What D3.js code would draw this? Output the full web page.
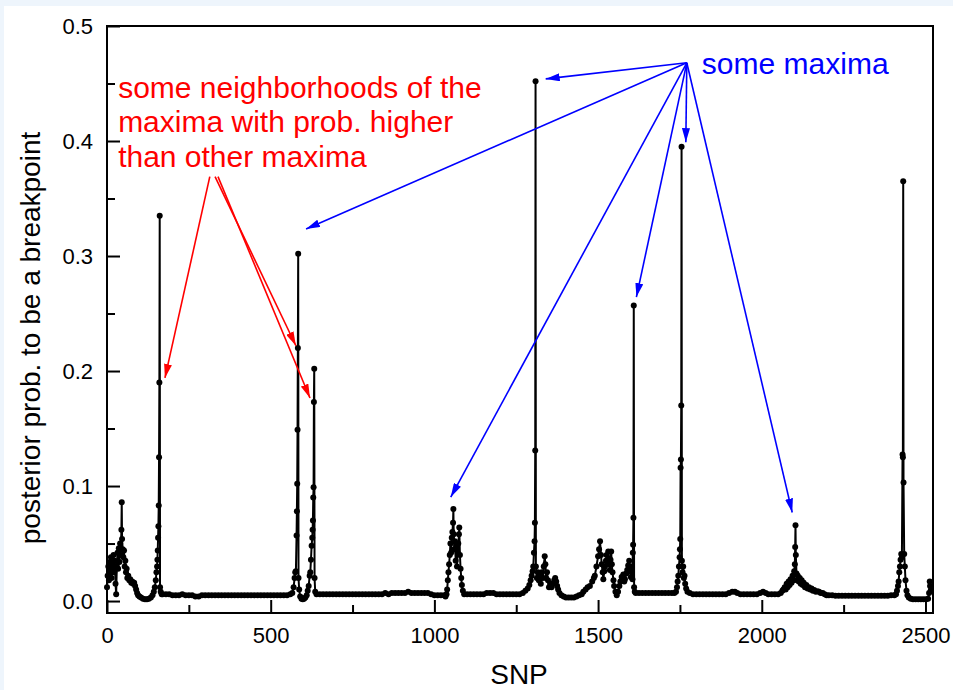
<!DOCTYPE html>
<html>
<head>
<meta charset="utf-8">
<script src="https://cdn.jsdelivr.net/npm/d3@7"></script>
<style>
    body { margin: 0; background: #eef5fc; }
    svg { display: block; }
    text { font-family: "Liberation Sans", Arial, sans-serif; }
</style>
</head>
<body>
<svg id="chart" width="953" height="690"></svg>
<script>
// Posterior probability per SNP as [snp, prob] pairs, region by region
const leftCluster = [[0,0.012],[2,0.022],[4,0.03],[6,0.018],[8,0.034],[10,0.024],[12,0.038],[14,0.02],[16,0.032],[18,0.028],
    [20,0.04],[22,0.025],[24,0.035],[26,0.015],[28,0.006],[30,0.03],[32,0.042],[34,0.028],[36,0.046],[38,0.034],[40,0.05],
    [42,0.04],[44,0.062],[45,0.086],[46,0.054],[48,0.045],[50,0.038],[52,0.044],[54,0.03],[56,0.035],[58,0.025],[60,0.028],
    [62,0.02],[65,0.022],[68,0.018],[71,0.019],[74,0.016],[77,0.017],[80,0.015],[83,0.016],[86,0.013],[89,0.01],[92,0.007],
    [95,0.005],[99,0.004],[104,0.003],[110,0.002],[116,0.0015],[122,0.0015],[128,0.002],[134,0.003],[139,0.005],[143,0.008],
    [146,0.012],[149,0.018],[151,0.025],[153,0.03],[154,0.036],[155,0.044],[156,0.055],[157,0.065],[158,0.083],[159,0.125],
    [160,0.19],[161,0.335],[162,0.012],[164,0.008],[167,0.006]];

const flat170to560 = [[170,0.006],[180,0.006],[190,0.006],[200,0.005],[210,0.005],[220,0.005],[230,0.006],[240,0.005],
    [250,0.005],[260,0.005],[270,0.004],[280,0.004],[290,0.005],[300,0.005],[310,0.005],[320,0.005],[330,0.005],[340,0.005],
    [350,0.005],[360,0.005],[370,0.005],[380,0.005],[390,0.005],[400,0.005],[410,0.005],[420,0.005],[430,0.005],[440,0.005],
    [450,0.005],[460,0.005],[470,0.005],[480,0.005],[490,0.005],[500,0.005],[510,0.005],[520,0.005],[530,0.005],[540,0.005],
    [550,0.005],[560,0.006]];

const twinPeaks = [[566,0.007],[570,0.012],[573,0.02],[575,0.025],[577,0.026],[579,0.057],[580,0.078],[581,0.102],
    [582,0.149],[583,0.22],[584,0.302],[585,0.02],[587,0.01],[590,0.004],[594,0.002],[598,0.0015],[602,0.002],[606,0.003],
    [610,0.005],[613,0.009],[616,0.013],[619,0.022],[621,0.025],[623,0.036],[625,0.048],[627,0.055],[628,0.062],[629,0.07],
    [630,0.09],[631,0.099],[632,0.173],[633,0.202],[634,0.02],[636,0.008],[640,0.006]];

const flat650to1030 = [[650,0.006],[660,0.006],[670,0.006],[680,0.006],[690,0.006],[700,0.006],[710,0.006],[720,0.006],
    [730,0.006],[740,0.006],[750,0.006],[760,0.006],[770,0.006],[780,0.006],[790,0.006],[800,0.006],[810,0.006],[820,0.006],
    [830,0.006],[840,0.006],[850,0.007],[860,0.006],[870,0.007],[880,0.007],[890,0.007],[900,0.007],[910,0.007],[920,0.008],
    [930,0.007],[940,0.007],[950,0.007],[960,0.007],[970,0.007],[980,0.007],[990,0.006],[1000,0.005],[1010,0.005],
    [1020,0.005],[1030,0.005]];

const cluster1058 = [[1034,0.004],[1037,0.006],[1039,0.01],[1041,0.018],[1043,0.025],[1045,0.032],[1047,0.04],
    [1049,0.05],[1051,0.042],[1053,0.055],[1055,0.06],[1057,0.068],[1058,0.08],[1059,0.058],[1061,0.045],[1063,0.052],
    [1065,0.035],[1067,0.048],[1069,0.03],[1071,0.042],[1073,0.05],[1075,0.058],[1076,0.064],[1078,0.04],[1080,0.028],
    [1082,0.02],[1084,0.014],[1087,0.009],[1091,0.006]];

const flat1100to1280 = [[1100,0.006],[1110,0.006],[1120,0.006],[1130,0.006],[1140,0.006],[1150,0.006],[1160,0.007],
    [1170,0.007],[1180,0.007],[1190,0.006],[1200,0.006],[1210,0.006],[1220,0.006],[1230,0.006],[1240,0.006],[1250,0.006],
    [1260,0.006],[1270,0.007],[1278,0.009]];

const cluster1309 = [[1285,0.011],[1290,0.014],[1294,0.018],[1297,0.022],[1300,0.026],[1302,0.03],[1304,0.042],
    [1306,0.052],[1307,0.068],[1308,0.131],[1309,0.452],[1310,0.03],[1313,0.02],[1316,0.025],[1319,0.018],[1322,0.022],
    [1325,0.015],[1328,0.025],[1331,0.02],[1334,0.03],[1337,0.039],[1339,0.032],[1341,0.02],[1344,0.025],[1347,0.018],
    [1350,0.012],[1354,0.015],[1358,0.012],[1362,0.015],[1366,0.018],[1369,0.02],[1372,0.017],[1375,0.013],[1378,0.01],
    [1382,0.007],[1388,0.005],[1395,0.004],[1402,0.003],[1410,0.003],[1418,0.003],[1426,0.003],[1434,0.004],[1442,0.005],
    [1450,0.006],[1455,0.008]];

const cluster1506 = [[1462,0.01],[1468,0.012],[1475,0.013],[1482,0.017],[1487,0.02],[1490,0.022],[1495,0.03],
    [1500,0.039],[1503,0.045],[1506,0.052],[1509,0.04],[1511,0.032],[1514,0.025],[1516,0.019],[1519,0.026],[1521,0.03],
    [1524,0.035],[1526,0.04],[1529,0.032],[1531,0.043],[1534,0.035],[1536,0.027],[1538,0.036],[1540,0.043],[1542,0.032],
    [1544,0.025],[1547,0.018],[1549,0.013],[1553,0.008],[1557,0.005],[1561,0.008],[1565,0.013],[1568,0.017],[1572,0.021],
    [1577,0.023],[1580,0.017],[1582,0.019],[1586,0.024],[1589,0.027],[1592,0.031],[1595,0.035],[1598,0.026],[1600,0.021],
    [1603,0.03],[1605,0.019],[1606,0.042],[1607,0.049],[1608,0.0725],[1609,0.257],[1610,0.012],[1612,0.008]];

const flat1615to1735 = [[1615,0.007],[1625,0.007],[1635,0.007],[1645,0.007],[1655,0.007],[1665,0.007],[1675,0.007],
    [1685,0.007],[1695,0.007],[1705,0.007],[1715,0.007],[1725,0.007],[1733,0.007]];

const cluster1755 = [[1738,0.008],[1741,0.012],[1743,0.017],[1745,0.022],[1747,0.03],[1749,0.038],[1750,0.045],
    [1751,0.054],[1752,0.116],[1753,0.123],[1754,0.17],[1755,0.395],[1756,0.035],[1758,0.025],[1760,0.03],[1762,0.02],
    [1764,0.022],[1766,0.015],[1769,0.011],[1773,0.008]];

const flat1780to2060 = [[1780,0.007],[1790,0.006],[1800,0.006],[1810,0.006],[1820,0.006],[1830,0.006],[1840,0.006],
    [1850,0.006],[1860,0.006],[1870,0.006],[1880,0.006],[1890,0.006],[1900,0.007],[1910,0.008],[1918,0.008],[1925,0.007],
    [1935,0.006],[1945,0.006],[1955,0.006],[1965,0.006],[1975,0.006],[1985,0.006],[1995,0.007],[2004,0.008],[2012,0.007],
    [2020,0.006],[2030,0.006],[2040,0.006],[2050,0.006],[2058,0.007]];

const cluster2104 = [[2063,0.009],[2066,0.01],[2070,0.012],[2073,0.01],[2076,0.015],[2079,0.012],[2082,0.017],
    [2085,0.014],[2088,0.019],[2091,0.016],[2094,0.022],[2097,0.018],[2099,0.026],[2101,0.032],[2102,0.047],[2103,0.066],
    [2104,0.04],[2106,0.024],[2108,0.018],[2110,0.022],[2113,0.017],[2116,0.02],[2119,0.015],[2122,0.018],[2125,0.014],
    [2128,0.016],[2132,0.012],[2136,0.014],[2140,0.011],[2144,0.012],[2148,0.01],[2152,0.011],[2156,0.009],[2160,0.0095],
    [2165,0.008],[2170,0.0085],[2175,0.008],[2180,0.007],[2186,0.007],[2192,0.006],[2198,0.005]];

const flat2205to2405 = [[2205,0.005],[2215,0.005],[2225,0.0045],[2235,0.0045],[2245,0.0045],[2255,0.0045],[2265,0.0045],
    [2275,0.0045],[2285,0.0045],[2295,0.0045],[2305,0.0045],[2315,0.0045],[2325,0.0045],[2335,0.0045],[2345,0.0045],
    [2355,0.0045],[2365,0.0045],[2375,0.0045],[2385,0.0045],[2395,0.005],[2405,0.005]];

const cluster2432 = [[2410,0.006],[2413,0.009],[2416,0.013],[2418,0.017],[2420,0.025],[2422,0.03],[2424,0.036],
    [2426,0.041],[2428,0.038],[2430,0.1275],[2431,0.125],[2432,0.365],[2433,0.103],[2435,0.041],[2437,0.03],[2439,0.018],
    [2442,0.009],[2445,0.005],[2449,0.003]];

const tail2455 = [[2455,0.002],[2462,0.0015],[2470,0.0015],[2478,0.0015],[2486,0.0015],[2494,0.0015],[2502,0.0015],
    [2508,0.002],[2511,0.007],[2513,0.017],[2514,0.013],[2516,0.009]];

// Tick values
const xMajor = [0, 500, 1000, 1500, 2000, 2500];
const xMinor = [250, 750, 1250, 1750, 2250];
const yMajor = [0, 0.1, 0.2, 0.3, 0.4, 0.5];
const yMinor = [0.05, 0.15, 0.25, 0.35, 0.45];

// Annotations (data coordinates)
const redLines = ["some neighborhoods of the", "maxima with prob. higher", "than other maxima"];
const redAnchor = [34, 0.4374];
const redFrom = [[314, 0.369], [330, 0.369], [339, 0.369]];
const redTips = [[177, 0.194], [577, 0.222], [620, 0.1765]];
const blueText = "some maxima";
const blueAnchor = [1817, 0.4583];
const blueFrom = [1771, 0.468];
const blueTips = [[1340, 0.454], [608, 0.3235], [1050, 0.0904], [1617, 0.2643], [1768, 0.399], [2093, 0.077]];

const series = [].concat(leftCluster, flat170to560, twinPeaks, flat650to1030, cluster1058, flat1100to1280,
    cluster1309, cluster1506, flat1615to1735, cluster1755, flat1780to2060, cluster2104, flat2205to2405,
    cluster2432, tail2455).sort((a, b) => a[0] - b[0]);

const svg = d3.select("#chart");

// White page over the light blue border
svg.append("rect")
    .attr("x", 4).attr("y", 6)
    .attr("width", 949).attr("height", 684)
    .attr("fill", "#ffffff");

const x = d3.scaleLinear().domain([0, 2523]).range([107, 933]);
const y = d3.scaleLinear().domain([-0.0104, 0.5]).range([613, 26]);

// Axes, ticks pointing inwards
function styleAxis(g) {
    g.select(".domain").remove();
    g.selectAll(".tick line").attr("stroke", "#000").attr("stroke-width", 2);
    g.selectAll(".tick text").attr("fill", "#000").style("font-size", "22px");
}

svg.append("g")
    .attr("transform", `translate(0, ${y.range()[0]})`)
    .call(d3.axisBottom(x).tickValues(xMajor).tickSizeInner(-13).tickSizeOuter(0).tickPadding(14).tickFormat(d3.format("d")))
    .call(styleAxis);

svg.append("g")
    .attr("transform", `translate(0, ${y.range()[0]})`)
    .call(d3.axisBottom(x).tickValues(xMinor).tickSizeInner(-8).tickSizeOuter(0).tickFormat(""))
    .call(styleAxis);

svg.append("g")
    .attr("transform", `translate(${x.range()[0]}, 0)`)
    .call(d3.axisLeft(y).tickValues(yMajor).tickSizeInner(-13).tickSizeOuter(0).tickPadding(14).tickFormat(d3.format(".1f")))
    .call(styleAxis);

svg.append("g")
    .attr("transform", `translate(${x.range()[0]}, 0)`)
    .call(d3.axisLeft(y).tickValues(yMinor).tickSizeInner(-8).tickSizeOuter(0).tickFormat(""))
    .call(styleAxis);

// Frame
svg.append("rect")
    .attr("x", x.range()[0]).attr("y", y.range()[1])
    .attr("width", x.range()[1] - x.range()[0])
    .attr("height", y.range()[0] - y.range()[1])
    .attr("fill", "none")
    .attr("stroke", "#000")
    .attr("stroke-width", 2);

// Axis titles
svg.append("text")
    .attr("x", (x.range()[0] + x.range()[1]) / 2 - 1)
    .attr("y", 684)
    .attr("text-anchor", "middle")
    .style("font-size", "28px")
    .text("SNP");

svg.append("text")
    .attr("transform", "rotate(-90)")
    .attr("x", -338)
    .attr("y", 40)
    .attr("text-anchor", "middle")
    .style("font-size", "28px")
    .text("posterior prob. to be a breakpoint");

// Line and dots
const line = d3.line()
    .x(d => x(d[0]))
    .y(d => y(d[1]));

svg.append("path")
    .datum(series)
    .attr("fill", "none")
    .attr("stroke", "#000")
    .attr("stroke-width", 2)
    .attr("stroke-linejoin", "round")
    .attr("d", line);

svg.append("g")
    .selectAll("circle")
    .data(series)
    .join("circle")
    .attr("cx", d => x(d[0]))
    .attr("cy", d => y(d[1]))
    .attr("r", 3)
    .attr("fill", "#000");

// Arrowheads
const defs = svg.append("defs");
[["arrowRed", "#ff0000"], ["arrowBlue", "#0000ff"]].forEach(([id, color]) => {
    defs.append("marker")
        .attr("id", id)
        .attr("viewBox", "0 0 14 8")
        .attr("refX", 14).attr("refY", 4)
        .attr("markerWidth", 14).attr("markerHeight", 8)
        .attr("markerUnits", "userSpaceOnUse")
        .attr("orient", "auto")
        .append("path")
        .attr("d", "M0,0 L14,4 L0,8 Z")
        .attr("fill", color);
});

// Red annotation
const redText = svg.append("text")
    .attr("x", x(redAnchor[0]))
    .attr("y", y(redAnchor[1]))
    .attr("fill", "#ff0000")
    .style("font-size", "30px");
redText.selectAll("tspan")
    .data(redLines)
    .join("tspan")
    .attr("x", x(redAnchor[0]))
    .attr("dy", (d, i) => i === 0 ? 0 : 34.5)
    .text(d => d);

svg.append("g")
    .selectAll("line")
    .data(redTips)
    .join("line")
    .attr("x1", (d, i) => x(redFrom[i][0]))
    .attr("y1", (d, i) => y(redFrom[i][1]))
    .attr("x2", d => x(d[0]))
    .attr("y2", d => y(d[1]))
    .attr("stroke", "#ff0000")
    .attr("stroke-width", 1.6)
    .attr("marker-end", "url(#arrowRed)");

// Blue annotation
svg.append("text")
    .attr("x", x(blueAnchor[0]))
    .attr("y", y(blueAnchor[1]))
    .attr("fill", "#0000ff")
    .style("font-size", "30px")
    .text(blueText);

svg.append("g")
    .selectAll("line")
    .data(blueTips)
    .join("line")
    .attr("x1", x(blueFrom[0]))
    .attr("y1", y(blueFrom[1]))
    .attr("x2", d => x(d[0]))
    .attr("y2", d => y(d[1]))
    .attr("stroke", "#0000ff")
    .attr("stroke-width", 1.6)
    .attr("marker-end", "url(#arrowBlue)");
</script>
</body>
</html>
